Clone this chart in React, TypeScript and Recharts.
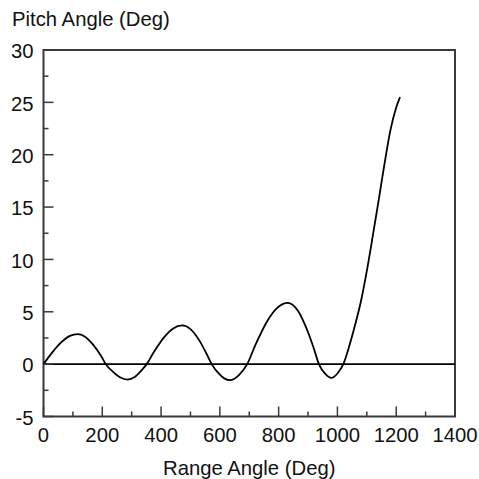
import React from "react";
import { LineChart, Line, XAxis, YAxis, ReferenceLine, ReferenceArea, Label } from "recharts";

const rangeAngle = [0, 30, 60, 90, 116, 140, 170, 195, 212, 235, 260, 286, 310, 335, 351, 375, 410, 440, 472, 500, 530, 555, 572, 600, 615, 634, 665, 693, 720, 760, 795, 831, 865, 900, 920, 937, 958, 980, 1000, 1020, 1040, 1060, 1080, 1100, 1120, 1140, 1160, 1180, 1200, 1213];
const pitchAngle = [0, 1.13, 2.08, 2.7, 2.87, 2.65, 1.82, 0.83, 0, -0.69, -1.25, -1.47, -1.23, -0.55, 0, 1.13, 2.56, 3.39, 3.7, 3.35, 2.27, 0.98, 0, -1.0, -1.36, -1.53, -1.04, 0, 1.77, 4.05, 5.37, 5.86, 5.13, 3.05, 1.47, 0, -0.91, -1.31, -0.89, 0, 1.7, 3.73, 6.0, 8.9, 12.2, 15.6, 19.1, 22.3, 24.5, 25.5];

const xTicks = [0, 100, 200, 300, 400, 500, 600, 700, 800, 900, 1000, 1100, 1200, 1300, 1400];
const xMajor = [0, 200, 400, 600, 800, 1000, 1200, 1400];
const yTicks = [-5, -2.5, 0, 2.5, 5, 7.5, 10, 12.5, 15, 17.5, 20, 22.5, 25, 27.5, 30];
const yMajor = [-5, 0, 5, 10, 15, 20, 25, 30];

const data = rangeAngle.map((x, i) => ({ x, y: pitchAngle[i] }));

const FONT = "'Liberation Sans', Arial, Helvetica, sans-serif";
const FS = 20.3;
const AXIS_COLOR = "#3a3a3a";

const XTick = (props: any) => {
  const { x, y, payload } = props;
  const major = xMajor.includes(payload.value);
  return (
    <g>
      <line x1={x} y1={y} x2={x} y2={y - (major ? 10 : 5)} stroke={AXIS_COLOR} strokeWidth={1.5} />
      {major && (
        <text x={x} y={y + 25.2} textAnchor="middle" fontSize={FS} fontFamily={FONT} fill="#111">
          {payload.value}
        </text>
      )}
    </g>
  );
};

const YTick = (props: any) => {
  const { x, y, payload } = props;
  const major = yMajor.includes(payload.value);
  return (
    <g>
      <line x1={x} y1={y} x2={x + (major ? 10 : 5)} y2={y} stroke={AXIS_COLOR} strokeWidth={1.5} />
      {major && (
        <text x={x - 10} y={y + 8.2} textAnchor="end" fontSize={FS} fontFamily={FONT} fill="#111">
          {payload.value}
        </text>
      )}
    </g>
  );
};

export default function App() {
  return (
    <div style={{ position: "absolute", left: 0, top: 0, width: 479, height: 479, overflow: "hidden" }}>
      <LineChart width={479} height={479} data={data} margin={{ top: 50, right: 24, left: 0, bottom: 0 }}>
        <XAxis
          dataKey="x"
          type="number"
          domain={[0, 1400]}
          ticks={xTicks}
          interval={0}
          axisLine={false}
          tickLine={false}
          tickSize={0}
          tickMargin={0}
          tick={<XTick />}
          height={62.5}
        >
          <Label
            content={(p: any) => {
              const vb = p.viewBox;
              return (
                <text x={vb.x + vb.width / 2} y={vb.y + 58.5} textAnchor="middle" fontSize={FS} fontFamily={FONT} fill="#111">
                  Range Angle (Deg)
                </text>
              );
            }}
          />
        </XAxis>
        <YAxis
          type="number"
          domain={[-5, 30]}
          ticks={yTicks}
          interval={0}
          axisLine={false}
          tickLine={false}
          tickSize={0}
          tickMargin={0}
          tick={<YTick />}
          width={43.5}
        >
          <Label
            content={(p: any) => {
              const vb = p.viewBox;
              return (
                <text x={12} y={vb.y - 24} textAnchor="start" fontSize={FS} fontFamily={FONT} fill="#111">
                  Pitch Angle (Deg)
                </text>
              );
            }}
          />
        </YAxis>
        <ReferenceArea x1={0} x2={1400} y1={-5} y2={30} fill="none" stroke={AXIS_COLOR} strokeWidth={2} ifOverflow="visible" />
        <ReferenceLine y={0} stroke="#000" strokeWidth={1.8} />
        <Line type="monotone" dataKey="y" stroke="#000" strokeWidth={1.8} dot={false} isAnimationActive={false} />
      </LineChart>
    </div>
  );
}
